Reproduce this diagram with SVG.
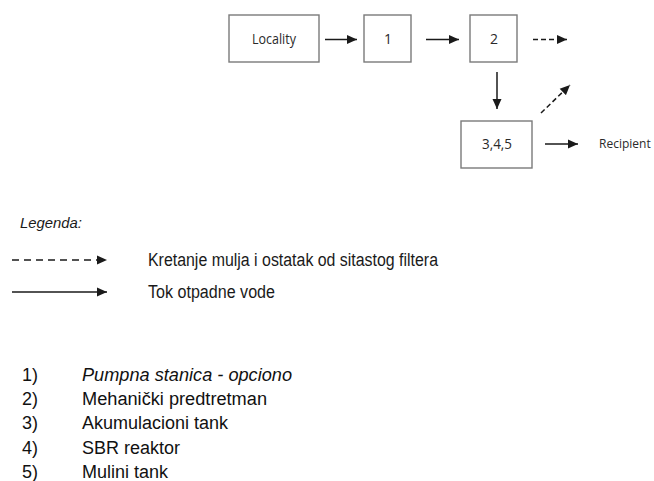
<svg xmlns="http://www.w3.org/2000/svg" width="654" height="481" viewBox="0 0 654 481">
<style>
.box{fill:#fff;stroke:#7a7a7a;stroke-width:1.4}
.lbl{font-family:"Open Sans","DejaVu Sans",sans-serif;font-size:14px;fill:#2a2a2a;text-anchor:middle}
.ln{stroke:#1a1a1a;stroke-width:1.5;fill:none}
.ds{stroke-dasharray:5 3}
.lg{font-family:"Liberation Sans",Arial,sans-serif;font-size:18px;fill:#1a1a1a}
</style>
<defs>
<marker id="ah" markerUnits="userSpaceOnUse" markerWidth="11" markerHeight="10" refX="10" refY="5" orient="auto">
<path d="M0,0.5 L10,5 L0,9.5 Z" fill="#1a1a1a"/>
</marker>
</defs>
<rect width="654" height="481" fill="#fff"/>
<g id="locality"><rect class="box" x="229" y="15" width="90" height="47"/><text class="lbl" x="274" y="44" textLength="44" lengthAdjust="spacingAndGlyphs">Locality</text></g>
<g id="n1"><rect class="box" x="364" y="15" width="47" height="47"/><text class="lbl" x="388" y="44">1</text></g>
<g id="n2"><rect class="box" x="470" y="15" width="47" height="47"/><text class="lbl" x="494" y="44">2</text></g>
<g id="n345"><rect class="box" x="461" y="121" width="71" height="47"/><text class="lbl" x="497" y="149" textLength="30" lengthAdjust="spacingAndGlyphs">3,4,5</text></g>
<g id="recipient"><text x="599" y="148" font-family="'Open Sans','DejaVu Sans',sans-serif" font-size="12" fill="#2a2a2a">Recipient</text></g>
<g id="connectors">
<line class="ln" x1="325" y1="39.5" x2="357" y2="39.5" marker-end="url(#ah)"/>
<line class="ln" x1="426" y1="39.5" x2="459" y2="39.5" marker-end="url(#ah)"/>
<line class="ln ds" x1="533" y1="39.5" x2="567" y2="39.5" marker-end="url(#ah)"/>
<line class="ln" x1="497" y1="72" x2="497" y2="109" marker-end="url(#ah)"/>
<line class="ln" x1="545" y1="144" x2="578" y2="144" marker-end="url(#ah)"/>
<line class="ln ds" x1="541" y1="113" x2="570" y2="85" marker-end="url(#ah)"/>
</g>
<g id="legend">
<text x="20" y="228" font-family="'Liberation Sans',Arial,sans-serif" font-style="italic" font-size="15" fill="#1a1a1a" textLength="62" lengthAdjust="spacingAndGlyphs">Legenda:</text>
<line class="ln" style="stroke-dasharray:7 5" x1="12" y1="260" x2="107" y2="260" marker-end="url(#ah)"/>
<text class="lg" x="148" y="265.5" textLength="290" lengthAdjust="spacingAndGlyphs">Kretanje mulja i ostatak od sitastog filtera</text>
<line class="ln" x1="12" y1="292" x2="107" y2="292" marker-end="url(#ah)"/>
<text class="lg" x="148" y="298" textLength="127" lengthAdjust="spacingAndGlyphs">Tok otpadne vode</text>
</g>
<g id="list" font-family="'Liberation Sans',Arial,sans-serif" font-size="18" fill="#111">
<text x="22" y="381">1)</text><text x="82" y="381" font-style="italic" textLength="210" lengthAdjust="spacingAndGlyphs">Pumpna stanica - opciono</text>
<text x="22" y="405">2)</text><text x="82" y="405" textLength="185" lengthAdjust="spacingAndGlyphs">Mehanički predtretman</text>
<text x="22" y="429">3)</text><text x="82" y="429">Akumulacioni tank</text>
<text x="22" y="453.5">4)</text><text x="82" y="453.5">SBR reaktor</text>
<text x="22" y="478">5)</text><text x="82" y="478">Mulini tank</text>
</g>
</svg>
